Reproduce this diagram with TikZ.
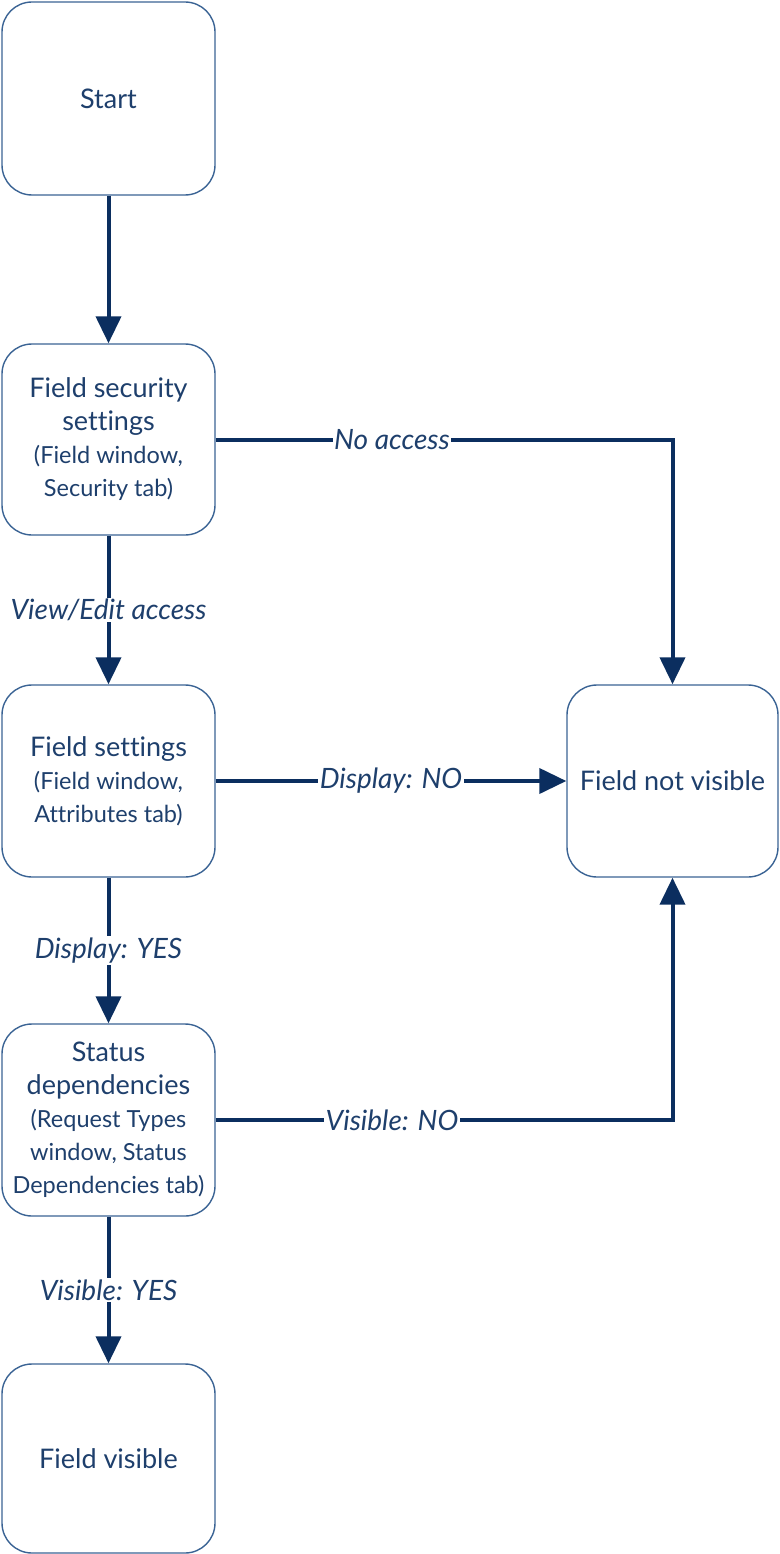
\documentclass[tikz,border=0pt]{standalone}
\usepackage{fontspec}
\setmainfont{Lato}[Ligatures={NoCommon}]
\usetikzlibrary{arrows.meta}
\definecolor{boxline}{HTML}{3A6394}
\definecolor{txt}{HTML}{1E3F6C}
\definecolor{arr}{HTML}{0B2E5F}
\tikzset{
  box/.style={draw=boxline, line width=1.4pt, rounded corners=30pt, text=txt,
    align=center, inner sep=0pt},
  conn/.style={draw=arr, line width=4pt, -{Triangle[width=25pt,length=27pt]}},
  lbl/.style={fill=white, text=txt, inner sep=1.5pt, font=\fontsize{28}{30}\selectfont\itshape},
  main/.style={font=\fontsize{27}{33}\selectfont},
}
\newcommand{\sub}[1]{{\fontsize{23.5}{31}\selectfont #1}}
\begin{document}
\begin{tikzpicture}[x=1pt,y=-1pt]
\useasboundingbox (0,0) rectangle (779,1554);
\node[box, main, minimum width=213pt, minimum height=193pt] (start) at (108.5,98.5) {Start};
\node[box, main, minimum width=213pt, minimum height=191pt] (fss) at (108.5,439.5)
  {Field security\\settings\\\sub{(Field window,}\\\sub{Security tab)}};
\node[box, main, minimum width=213pt, minimum height=192pt] (fs) at (108.5,781)
  {Field settings\\\sub{(Field window,}\\\sub{Attributes tab)}};
\node[box, main, minimum width=213pt, minimum height=192pt] (sd) at (108.5,1120)
  {Status\\dependencies\\\sub{(Request Types}\\\sub{window, Status}\\\sub{Dependencies tab)}};
\node[box, main, minimum width=213pt, minimum height=189pt] (fv) at (108.5,1458.5) {Field visible};
\node[box, main, minimum width=211pt, minimum height=192pt] (nv) at (672.5,781) {Field not visible};

\draw[conn] (start) -- (fss);
\draw[conn] (fss) -- node[lbl]{View/Edit access} (fs);
\draw[conn] (fs) -- node[lbl]{Display: YES} (sd);
\draw[conn] (sd) -- node[lbl]{Visible: YES} (fv);
\draw[conn] (fss.east) -- node[lbl, pos=0.386]{No access} (fss.east -| nv.north) -- (nv.north);
\draw[conn] (fs.east) -- node[lbl, pos=0.5]{Display: NO} (nv.west);
\draw[conn] (sd.east) -- node[lbl, pos=0.386]{Visible: NO} (sd.east -| nv.south) -- (nv.south);
\end{tikzpicture}
\end{document}
